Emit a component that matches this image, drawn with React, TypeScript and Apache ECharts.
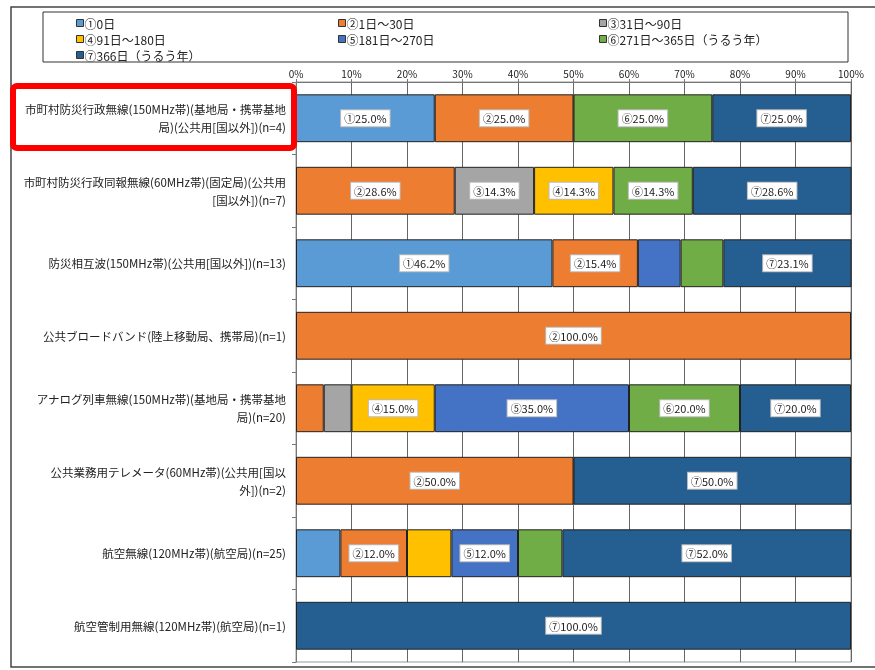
import React, { useEffect, useRef } from "react";
import * as echarts from "echarts";

const categories = [
  "市町村防災行政無線(150MHz帯)(基地局・携帯基地\n局)(公共用[国以外])(n=4)",
  "市町村防災行政同報無線(60MHz帯)(固定局)(公共用\n[国以外])(n=7)",
  "防災相互波(150MHz帯)(公共用[国以外])(n=13)",
  "公共ブロードバンド(陸上移動局、携帯局)(n=1)",
  "アナログ列車無線(150MHz帯)(基地局・携帯基地\n局)(n=20)",
  "公共業務用テレメータ(60MHz帯)(公共用[国以\n外])(n=2)",
  "航空無線(120MHz帯)(航空局)(n=25)",
  "航空管制用無線(120MHz帯)(航空局)(n=1)",
];

const seriesNames = [
  "①0日",
  "②1日～30日",
  "③31日～90日",
  "④91日～180日",
  "⑤181日～270日",
  "⑥271日～365日（うるう年）",
  "⑦366日（うるう年）",
];
const marks = ["①", "②", "③", "④", "⑤", "⑥", "⑦"];

const s1 = [25, 0, 46.2, 0, 0, 0, 8, 0];
const s2 = [25, 28.6, 15.4, 100, 5, 50, 12, 0];
const s3 = [0, 14.3, 0, 0, 5, 0, 0, 0];
const s4 = [0, 14.3, 0, 0, 15, 0, 8, 0];
const s5 = [0, 0, 7.7, 0, 35, 0, 12, 0];
const s6 = [25, 14.3, 7.7, 0, 20, 0, 8, 0];
const s7 = [25, 28.6, 23.1, 0, 20, 50, 52, 100];
const seriesValues = [s1, s2, s3, s4, s5, s6, s7];

const xTicks = [0, 10, 20, 30, 40, 50, 60, 70, 80, 90, 100];

const colors = ["#5B9BD5", "#ED7D31", "#A5A5A5", "#FFC000", "#4472C4", "#70AD47", "#255E91"];

const FONT = "'Noto Sans CJK JP', 'Noto Sans', sans-serif";

export default function App() {
  const ref = useRef<HTMLDivElement>(null);
  useEffect(() => {
    if (!ref.current) return;
    const chart = echarts.init(ref.current, null, { renderer: "svg" });
    const series = seriesValues.map((vals, i) => ({
      name: seriesNames[i],
      type: "bar",
      stack: "total",
      barWidth: "66%",
      itemStyle: { color: colors[i], borderColor: "#222", borderWidth: 1 },
      data: vals.map((v) =>
        v === 0
          ? "-"
          : {
              value: v,
              label: { show: v >= 10 },
            }
      ),
      label: {
        position: "inside",
        formatter: (p: any) => `${marks[i]}${Number(p.value).toFixed(1)}%`,
        backgroundColor: "#fff",
        borderColor: "#bbb",
        borderWidth: 1,
        padding: [3, 3, 2, 3],
        color: "#222",
        fontSize: 11,
        fontFamily: FONT,
      },
    }));
    const legendCol = (names: string[], left: number) => ({
      orient: "vertical",
      left,
      top: 12,
      itemGap: 4,
      itemWidth: 7,
      itemHeight: 7,
      icon: "rect",
      data: names,
      itemStyle: { borderColor: "#333", borderWidth: 1 },
      textStyle: {
        fontSize: 12,
        lineHeight: 12,
        fontFamily: FONT,
        color: "#222",
        padding: [0, 0, 0, -4],
      },
    });
    chart.setOption({
      animation: false,
      color: colors,
      legend: [
        legendCol([seriesNames[0], seriesNames[3], seriesNames[6]], 71),
        legendCol([seriesNames[1], seriesNames[4]], 333),
        legendCol([seriesNames[2], seriesNames[5]], 594),
      ],
      grid: { left: 296, right: 24, top: 82, bottom: 8, show: true, borderColor: "#999", borderWidth: 1 },
      xAxis: {
        type: "value",
        position: "top",
        min: 0,
        max: 100,
        interval: 10,
        axisLine: { show: true, lineStyle: { color: "#777" } },
        axisTick: { show: true, length: 3, lineStyle: { color: "#777" } },
        splitLine: { show: true, lineStyle: { color: "#666", width: 1 } },
        axisLabel: {
          formatter: (v: number) => (xTicks.includes(v) ? `${v}%` : ""),
          fontSize: 10,
          color: "#222",
          fontFamily: FONT,
          margin: 4,
        },
      },
      yAxis: {
        type: "category",
        inverse: true,
        data: categories,
        axisLine: { show: true, lineStyle: { color: "#777" } },
        axisTick: { show: true, length: 4, lineStyle: { color: "#777" } },
        axisLabel: {
          fontSize: 11.5,
          lineHeight: 18,
          color: "#222",
          fontFamily: FONT,
          align: "right",
          margin: 10,
        },
      },
      series,
      graphic: [
        {
          type: "rect",
          shape: { x: 11, y: 7, width: 900, height: 660 },
          style: { fill: "none", stroke: "#444", lineWidth: 1.5 },
          silent: true,
        },
        {
          type: "rect",
          shape: { x: 43, y: 12, width: 805, height: 50 },
          style: { fill: "none", stroke: "#333", lineWidth: 1 },
          silent: true,
        },
        {
          type: "rect",
          shape: { x: 13, y: 86, width: 281, height: 62, r: 4 },
          style: { fill: "none", stroke: "#FF0000", lineWidth: 6 },
          silent: true,
          z: 100,
        },
      ],
    });
    return () => chart.dispose();
  }, []);
  return (
    <div
      ref={ref}
      style={{ position: "fixed", left: 0, top: 0, width: 875, height: 670 }}
    />
  );
}
